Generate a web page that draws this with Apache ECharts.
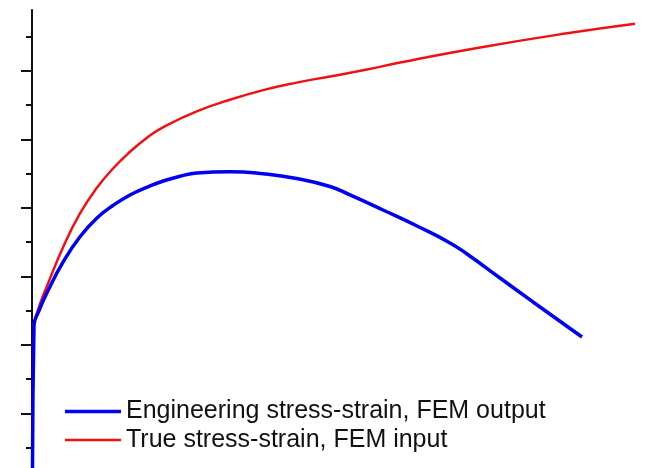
<!DOCTYPE html>
<html>
<head>
<meta charset="utf-8">
<script src="https://cdn.jsdelivr.net/npm/echarts@6/dist/echarts.min.js"></script>
<style>
html,body{margin:0;padding:0;background:#fff;}
#c{width:654px;height:468px;}
</style>
</head>
<body>
<div id="c"></div>
<script>
// Series names (legend)
const seriesNames = ['Engineering stress-strain, FEM output', 'True stress-strain, FEM input'];

// Engineering stress-strain (strain, stress) in arbitrary units
const engStrain = [0.05, 0.2, 0.7, 1.47, 3.13, 4.8, 6.47, 8.13, 9.8, 11.47, 13.13, 14.8, 16.47, 19.8, 23.13, 26.47, 29.8, 31.8, 35.1, 38.5, 41.8, 43.5, 46.8, 50.1, 55.0];
const engStress = [0, 228, 250, 275.5, 321.6, 358, 385, 404, 419, 430, 439.4, 446.3, 451.1, 453, 450, 443, 431.4, 419, 397, 373.7, 349, 332.8, 297.8, 262.8, 211.7];

// True stress-strain
const trueStrain = [0.13, 0.8, 1.47, 3.13, 4.8, 6.47, 8.13, 9.8, 11.47, 13.13, 16.47, 19.8, 23.13, 26.47, 29.8, 33.5, 36.8, 45.1, 53.5, 60.3];
const trueStress = [229, 260, 285, 343.5, 392, 429, 458, 482, 502.2, 518, 541, 558, 572, 583, 592, 602, 612.4, 635, 655, 669];

// Tick positions on the (unlabelled) stress axis
const majorTicks = [100, 200, 300, 400, 500, 600];
const minorTicks = [50, 150, 250, 350, 450, 550, 650];

const yMin = 20.4, yMax = 689;
const xMin = 0, xMax = 62.2;

const chart = echarts.init(document.getElementById('c'));
const zip = (a, b) => a.map((v, i) => [v, b[i]]);

const legendText = { fontFamily: 'Liberation Sans, Arial, sans-serif', fontSize: 25, color: '#111' };

chart.setOption({
  animation: false,
  backgroundColor: '#ffffff',
  grid: { left: 32, right: 0, top: 10, bottom: 0, containLabel: false },
  xAxis: { type: 'value', min: xMin, max: xMax, show: false },
  yAxis: [
    {
      type: 'value', min: yMin, max: yMax, position: 'left',
      axisLine: { show: true, lineStyle: { color: '#111', width: 2 } },
      axisTick: { show: true, length: 11, customValues: majorTicks, lineStyle: { color: '#111', width: 2 } },
      axisLabel: { show: false },
      splitLine: { show: false }
    },
    {
      type: 'value', min: yMin, max: yMax, position: 'left',
      axisLine: { show: false },
      axisTick: { show: true, length: 6, customValues: minorTicks, lineStyle: { color: '#111', width: 2 } },
      axisLabel: { show: false },
      splitLine: { show: false }
    }
  ],
  legend: [
    {
      left: 65, top: 399, padding: 0,
      itemWidth: 56, itemHeight: 3.5, icon: 'rect',
      textStyle: legendText,
      data: [seriesNames[0]]
    },
    {
      left: 65, top: 427.5, padding: 0,
      itemWidth: 56, itemHeight: 2.5, icon: 'rect',
      textStyle: legendText,
      data: [seriesNames[1]]
    }
  ],
  series: [
    {
      name: seriesNames[0], type: 'line', yAxisIndex: 0,
      data: zip(engStrain, engStress),
      symbol: 'none', smooth: 0.5,
      lineStyle: { color: '#0000f0', width: 3.5 }, itemStyle: { color: '#0000f0' },
      z: 3
    },
    {
      name: seriesNames[1], type: 'line', yAxisIndex: 0,
      data: zip(trueStrain, trueStress),
      symbol: 'none', smooth: 0.5,
      lineStyle: { color: '#f01010', width: 2.5 }, itemStyle: { color: '#f01010' },
      z: 2
    }
  ]
});
</script>
</body>
</html>
